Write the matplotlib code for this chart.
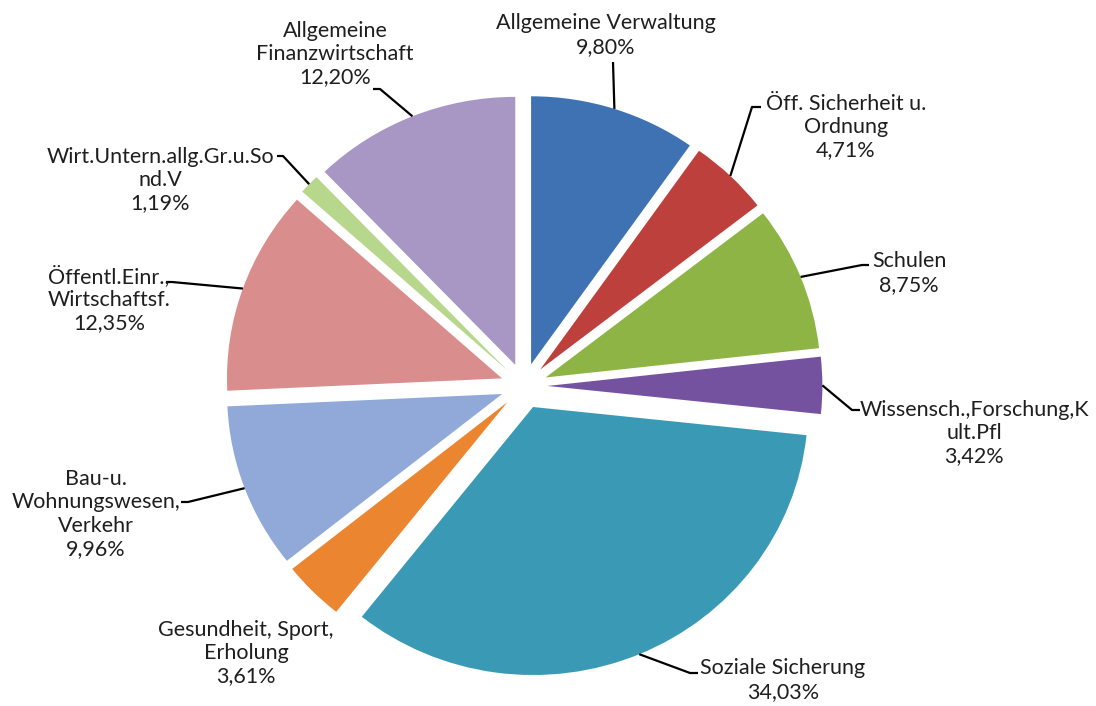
import numpy as np
import matplotlib
matplotlib.use("Agg")
import matplotlib.pyplot as plt

categories = ["Allgemeine Verwaltung", "Öff. Sicherheit u.\nOrdnung", "Schulen",
              "Wissensch.,Forschung,K\nult.Pfl", "Soziale Sicherung",
              "Gesundheit, Sport,\nErholung", "Bau-u.\nWohnungswesen,\nVerkehr",
              "Öffentl.Einr.,\nWirtschaftsf.", "Wirt.Untern.allg.Gr.u.So\nnd.V",
              "Allgemeine\nFinanzwirtschaft"]
values = [9.80, 4.71, 8.75, 3.42, 34.03, 3.61, 9.96, 12.35, 1.19, 12.20]
pct_labels = ["9,80%", "4,71%", "8,75%", "3,42%", "34,03%", "3,61%", "9,96%", "12,35%", "1,19%", "12,20%"]
colors = ["#3F72B2", "#BE403C", "#8DB445", "#7552A0", "#3A9AB6", "#EB852F",
          "#91A9D9", "#D98D8C", "#B7D78C", "#A896C5"]

W, H = 1096, 706
CX, CY, RX, RY = 524, 386, 275, 268
EXPL = 0.085

def px(x, y):
    return ((x - CX) / RX, (CY - y) / RY)

# label layout (pixel positions of text block centres and leader elbows)
text_pos = [(606, 35), (846, 127), (909, 273), (974, 433), (783, 680),
            (246, 653), (96, 514), (109, 299), (160, 180), (335, 54)]
elbows = [[(613, 62)], [(752, 107), (761, 107)], [(862, 265), (869, 265)],
          [(852, 410), (860, 410)], [(690, 673), (698, 673)], None,
          [(188, 502), (181, 502)], [(172, 282), (166, 282)],
          [(283, 156), (277, 156)], [(380, 89), (373, 89)]]

fig = plt.figure(figsize=(W / 100, H / 100), dpi=100)
ax = fig.add_axes([0, 0, 1, 1])

wedges, _ = ax.pie(values, startangle=90, counterclock=False, colors=colors,
                   explode=[EXPL] * len(values), radius=1.0,
                   wedgeprops=dict(linewidth=0))
ax.set_aspect("auto")
ax.set_xlim(px(0, 0)[0], px(W, 0)[0])
ax.set_ylim(px(0, H)[1], px(0, 0)[1])
ax.axis("off")

for i, w in enumerate(wedges):
    mid = np.deg2rad((w.theta1 + w.theta2) / 2)
    cx, cy = w.center
    ax_, ay_ = cx + w.r * np.cos(mid), cy + w.r * np.sin(mid)
    if elbows[i] is not None:
        pts = [(ax_, ay_)] + [px(*p) for p in elbows[i]]
        xs, ys = zip(*pts)
        ax.plot(xs, ys, color="black", lw=1.6, solid_capstyle="butt")
    tx, ty = px(*text_pos[i])
    ax.text(tx, ty, categories[i] + "\n" + pct_labels[i], ha="center", va="center",
            fontsize=15.5, family="Lato", color="#1f1f1f", linespacing=1.2)

fig.savefig("out.png", dpi=100, facecolor="white")
